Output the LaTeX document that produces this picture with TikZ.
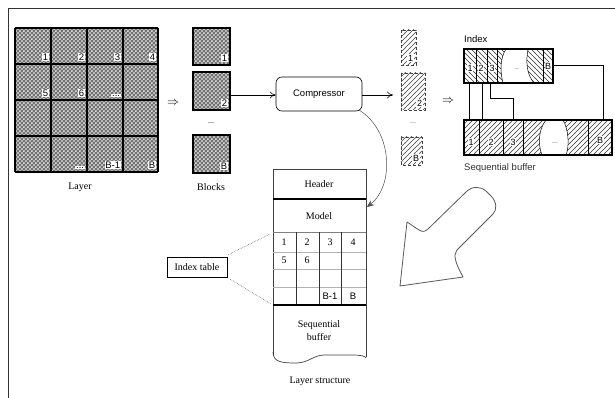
\documentclass[tikz,border=0pt]{standalone}
\usepackage{fontspec}
\setmainfont{Liberation Serif}
\setsansfont{Liberation Sans}
\usetikzlibrary{patterns,arrows.meta}
\pgfdeclarepatternformonly{meshdots}{\pgfpointorigin}{\pgfpoint{4.4pt}{4.4pt}}{\pgfpoint{4.4pt}{4.4pt}}{%
  \pgfpathcircle{\pgfpoint{1.1pt}{1.1pt}}{1.05pt}%
  \pgfpathcircle{\pgfpoint{3.3pt}{3.3pt}}{1.05pt}%
  \pgfusepath{fill}}
\pgfdeclarepatternformonly{wideNE}{\pgfpoint{-1pt}{-1pt}}{\pgfpoint{6pt}{6pt}}{\pgfpoint{5pt}{5pt}}{%
  \pgfsetlinewidth{0.55pt}%
  \pgfpathmoveto{\pgfpoint{-0.1pt}{-0.1pt}}\pgfpathlineto{\pgfpoint{5.1pt}{5.1pt}}\pgfusepath{stroke}}
\pgfdeclarepatternformonly{wideNW}{\pgfpoint{-1pt}{-1pt}}{\pgfpoint{6pt}{6pt}}{\pgfpoint{5pt}{5pt}}{%
  \pgfsetlinewidth{0.55pt}%
  \pgfpathmoveto{\pgfpoint{-0.1pt}{5.1pt}}\pgfpathlineto{\pgfpoint{5.1pt}{-0.1pt}}\pgfusepath{stroke}}
\begin{document}
\begin{tikzpicture}[x=1pt,y=-1pt,
  lbl/.style={fill=white, inner sep=0.7pt, font=\sffamily\fontsize{9.5}{9.5}\selectfont, anchor=south east},
  slbl/.style={inner sep=0.5pt, fill=white, font=\sffamily\fontsize{9}{9}\selectfont},
  thick border/.style={line width=1.5pt},
  serif text/.style={font=\fontsize{10}{11}\selectfont},
  sans text/.style={font=\sffamily\fontsize{9.5}{11}\selectfont},
  opentip/.style={-{To[length=6pt,width=7pt]}},
  graytable/.style={draw=black!30, line width=1pt}]
\useasboundingbox (0,0) rectangle (615,398);
% frame
\draw[line width=0.9pt, black!80] (8,398) -- (8,8) -- (615,8);

% ---------------- Layer grid
\fill[black!55] (15,28) rectangle (158,172);
\fill[pattern=meshdots, pattern color=white] (15,28) rectangle (158,172);
\foreach \x in {15,51,87,123,158} \draw[thick border] (\x,28) -- (\x,172);
\foreach \y in {28,64,100,136,172} \draw[thick border] (15,\y) -- (158,\y);
\node[lbl] (c1) at (49,61) {1};
\node[lbl] (c2) at (85,61) {2};
\node[lbl] (c3) at (121,61) {3};
\node[lbl] (c4) at (156,61) {4};
\node[lbl] (c5) at (49,97) {5};
\node[lbl] (c6) at (85,97) {6};
\node[lbl] (c7) at (121,97) {...};
\node[lbl] (c14) at (85,169) {...};
\node[lbl] (c15) at (121,169) {B-1};
\node[lbl] (c16) at (156,169) {B};
\node[serif text] (layer) at (80,187) {Layer};
\node[font=\fontsize{12}{12}\selectfont] (imp1) at (173,103) {$\Rightarrow$};

% ---------------- Blocks
\foreach \ya/\yb in {28/65, 72/110, 135/173}{
  \fill[black!55] (193,\ya) rectangle (230,\yb);
  \fill[pattern=meshdots, pattern color=white] (193,\ya) rectangle (230,\yb);
  \draw[thick border] (193,\ya) rectangle (230,\yb);
}
\node[lbl] (b1) at (228,62) {1};
\node[lbl] (b2) at (228,107) {2};
\node[lbl] (bB) at (228,170) {B};
\node[font=\fontsize{8}{8}\selectfont] (bdots) at (211,123) {...};
\node[serif text] (blocks) at (211,187) {Blocks};
\coordinate (b2r) at (231,95);

% ---------------- Compressor
\node[draw, rounded corners=6pt, minimum width=86pt, minimum height=34pt, inner sep=0pt,
      sans text, line width=0.6pt] (comp) at (319,94) {Compressor};
\draw[opentip, line width=0.6pt] (b2r) -- (comp.west |- b2r);
\coordinate (cout) at (393,95);
\draw[opentip, line width=0.6pt] (comp.east |- cout) -- (cout);

% ---------------- Compressed blocks
\foreach \xa/\ya/\xb/\yb in {401/30/416/65, 401/73/425/110, 401/137/422/165}{
  \fill[pattern=wideNE, pattern color=black!75] (\xa,\ya) rectangle (\xb,\yb);
  \draw[black!75, line width=0.6pt, densely dashed] (\xa,\ya) rectangle (\xb,\yb);
}
\node[lbl, font=\sffamily\fontsize{9}{9}\selectfont] (k1) at (414,62) {1};
\node[lbl, font=\sffamily\fontsize{9}{9}\selectfont] (k2) at (423,107) {2};
\node[lbl, font=\sffamily\fontsize{9}{9}\selectfont] (kB) at (420,162) {B};
\node[font=\fontsize{8}{8}\selectfont, black!60] (kdots) at (413,123) {...};
\node[font=\fontsize{12}{12}\selectfont] (imp2) at (448,101) {$\Rightarrow$};

% ---------------- Index
\node[sans text, anchor=west, inner sep=0pt] (indexlbl) at (464,39) {Index};
\fill[pattern=wideNW, pattern color=black!80] (464,49) rectangle (553,83);
\fill[white] (506,49) .. controls (500,58) and (500,72) .. (503,83)
   -- (534,83) .. controls (526,74) and (526,60) .. (528,49) -- cycle;
\draw[line width=0.5pt] (506,49) .. controls (500,58) and (500,72) .. (503,83);
\draw[line width=0.5pt] (528,49) .. controls (526,60) and (526,74) .. (534,83);
\foreach \x in {476,487,497,543} \draw[line width=0.6pt] (\x,49) -- (\x,83);
\draw[thick border] (464,49) rectangle (553,83);
\node[slbl] (i1) at (470,68) {1};
\node[slbl] (i2) at (481,68) {2};
\node[slbl] (i3) at (492,68) {3};
\node[font=\fontsize{8}{8}\selectfont, black!60] (idots) at (517,69) {..};
\node[slbl] (iB) at (548,66) {B};

% ---------------- Sequential buffer
\fill[pattern=wideNE, pattern color=black!80] (464,120) rectangle (612,155);
\fill[white] (546,120) .. controls (538,130) and (538,145) .. (542,155)
   -- (566,155) .. controls (570,145) and (568,128) .. (563,120) -- cycle;
\draw[line width=0.5pt] (546,120) .. controls (538,130) and (538,145) .. (542,155);
\draw[line width=0.5pt] (563,120) .. controls (568,128) and (570,145) .. (566,155);
\foreach \x in {479,503,523,588} \draw[line width=0.6pt] (\x,120) -- (\x,155);
\draw[thick border] (464,120) rectangle (612,155);
\node[slbl] (s1) at (471,142) {1};
\node[slbl] (s2) at (491,142) {2};
\node[slbl] (s3) at (513,142) {3};
\node[font=\fontsize{8}{8}\selectfont, black!60] (sdots) at (555,143) {...};
\node[slbl] (sB) at (600,140) {B};
\node[sans text, anchor=west, inner sep=0pt, black!80] (seqlbl) at (464,168) {Sequential buffer};

% index -> buffer connectors
\coordinate (ia) at (469,83);  \coordinate (sa) at (469,120);
\coordinate (ib) at (482,83);  \coordinate (sb) at (482,120);
\coordinate (ic) at (490,83);  \coordinate (sc) at (513,120);
\coordinate (id) at (553,65);  \coordinate (sd) at (603,120);
\draw[line width=0.6pt] (ia) -- (sa);
\draw[line width=0.6pt] (ib) -- (sb);
\draw[line width=0.6pt] (ic) -- (490,98) -| (sc);
\draw[line width=0.6pt] (id) -| (sd);

% ---------------- Layer structure
\draw[line width=0.7pt, black!75] (273,355) -- (273,169) -- (366,169) -- (366,357);
\draw[line width=0.7pt, black!75] (273,352) .. controls (273,362) and (282,363) .. (295,363)
  .. controls (310,363) and (312,355) .. (325,355) -- (352,355) .. controls (360,355) and (366,356) .. (366,358);
\draw[line width=1.5pt] (273,199) -- (366,199);
\draw[line width=0.9pt, black!50] (273,232) -- (366,232);
\foreach \y in {252,269,287} \draw[graytable] (273,\y) -- (366,\y);
\foreach \x in {296,319,341} \draw[line width=0.8pt, black!80] (\x,232) -- (\x,305);
\draw[line width=1.5pt] (273,305) -- (366,305);
\node[serif text] (header) at (319,184) {Header};
\node[serif text] (model) at (319,216) {Model};
\node[serif text] (t1) at (284,242) {1};
\node[serif text] (t2) at (307,242) {2};
\node[serif text] (t3) at (330,242) {3};
\node[serif text] (t4) at (353,242) {4};
\node[serif text] (t5) at (284,260) {5};
\node[serif text] (t6) at (307,260) {6};
\node[sans text] (t15) at (330,296) {B-1};
\node[sans text] (t16) at (353,296) {B};
\node[serif text, align=center, font=\fontsize{10}{13}\selectfont] (seqbuf) at (319,331) {Sequential\\buffer};
\node[serif text] (lstruct) at (320,381) {Layer structure};
\coordinate (modelin) at (367,207);
\draw[-{Stealth[length=7pt,width=6pt]}, line width=0.5pt, black!70] (comp.south east) ++(-3,-1)
  .. controls (392,130) and (395,185) .. (modelin);

% Index table callout
\node[draw, line width=0.6pt, serif text, minimum width=60pt, minimum height=20pt, inner sep=1pt] (itab) at (197,267) {Index table};
\coordinate (tt) at (270,234);
\coordinate (tb) at (271,304);
\draw[densely dotted, black!60, line width=0.6pt] (itab.north east) ++(1,-2) -- (tt);
\draw[densely dotted, black!60, line width=0.6pt] (itab.south east) ++(3,2) -- (tb);

% ---------------- Big hollow arrow
\draw[black!65, line width=0.8pt, line join=round]
  (400,286) -- (407,222) -- (419,230) .. controls (422,232) and (425,232) .. (428,229)
  -- (466,192) .. controls (472,186) and (480,186) .. (486,191)
  -- (491,196) .. controls (497,202) and (497,210) .. (493,214)
  -- (457,250) .. controls (453,255) and (455,262) .. (463,277) -- cycle;
\end{tikzpicture}
\end{document}
